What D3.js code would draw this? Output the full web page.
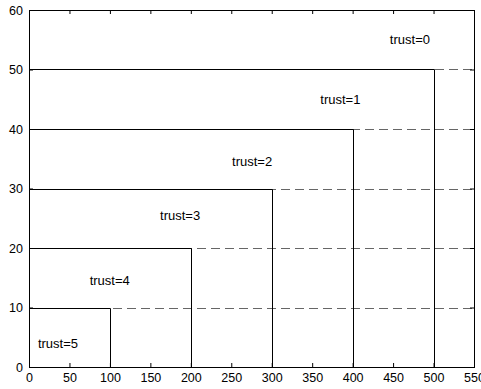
<!DOCTYPE html>
<html>
<head>
<meta charset="utf-8">
<script src="https://cdn.jsdelivr.net/npm/d3@7"></script>
<style>
  body { margin: 0; background: #fff; }
  svg text { font-family: "Liberation Sans", Arial, sans-serif; fill: #000; }
  .tick text { font-size: 12.5px; }
  .trust-label { font-size: 13px; }
</style>
</head>
<body>
<svg id="chart" width="481" height="389"></svg>
<script>
// step levels: solid from 0 to x, then down to 0; dashed to the right edge
const steps = [100, 200, 300, 400, 500];
const levels = [10, 20, 30, 40, 50];

// label text and anchor points (data units)
const trustNames = ["trust=5", "trust=4", "trust=3", "trust=2", "trust=1", "trust=0"];
const trustX = [11, 75, 162, 251, 360, 446];
const trustY = [4, 14.5, 25.5, 34.6, 44.9, 55];

const xTicks = [0, 50, 100, 150, 200, 250, 300, 350, 400, 450, 500, 550];
const yTicks = [0, 10, 20, 30, 40, 50, 60];

const svg = d3.select("#chart");
const margin = { top: 10, right: 7, bottom: 22, left: 29 };
const width = 481 - margin.left - margin.right,
      height = 389 - margin.top - margin.bottom;

const x = d3.scaleLinear().domain([0, 550]).range([0, width]),
      y = d3.scaleLinear().domain([0, 60]).range([height, 0]);

const g = svg.append("g").attr("transform", `translate(${margin.left},${margin.top})`);

// dashed guide lines across the whole width
g.selectAll("line.dash")
    .data(levels)
    .enter()
    .append("line")
    .classed("dash", true)
    .attr("x1", x(0))
    .attr("x2", x(550))
    .attr("y1", d => Math.round(y(d)) + 0.5)
    .attr("y2", d => Math.round(y(d)) + 0.5)
    .attr("stroke", "#666")
    .attr("stroke-width", 1)
    .attr("stroke-dasharray", "9,5");

// solid steps
const sg = g.selectAll("g.step")
    .data(steps.map((s, i) => ({ x: s, y: levels[i] })))
    .enter()
    .append("g")
    .classed("step", true);

sg.append("path")
    .attr("fill", "none")
    .attr("stroke", "#000")
    .attr("stroke-width", 1)
    .attr("d", d => {
        const yy = Math.round(y(d.y)) + 0.5, xx = Math.round(x(d.x)) + 0.5;
        return `M${x(0)},${yy}H${xx}V${y(0)}`;
    });

// axes with inward ticks on all four sides
const axisBottom = d3.axisBottom(x).tickValues(xTicks).tickSizeInner(-4).tickSizeOuter(0).tickPadding(6);
const axisTop = d3.axisTop(x).tickValues(xTicks).tickSizeInner(-4).tickSizeOuter(0).tickFormat("");
const axisLeft = d3.axisLeft(y).tickValues(yTicks).tickSizeInner(-4).tickSizeOuter(0).tickPadding(6);
const axisRight = d3.axisRight(y).tickValues(yTicks).tickSizeInner(-4).tickSizeOuter(0).tickFormat("");

g.append("g").attr("transform", `translate(0,${height})`).call(axisBottom);
g.append("g").call(axisTop);
g.append("g").call(axisLeft);
g.append("g").attr("transform", `translate(${width},0)`).call(axisRight);

g.selectAll(".domain").attr("stroke", "#000");
g.selectAll(".tick line").attr("stroke", "#000");

// frame
g.append("rect")
    .attr("x", 0.5).attr("y", 0.5)
    .attr("width", width).attr("height", height)
    .attr("fill", "none")
    .attr("stroke", "#000");

// trust labels
g.selectAll("text.trust-label")
    .data(trustNames)
    .enter()
    .append("text")
    .classed("trust-label", true)
    .attr("x", (d, i) => x(trustX[i]))
    .attr("y", (d, i) => y(trustY[i]))
    .attr("dy", "0.35em")
    .text(d => d);
</script>
</body>
</html>
